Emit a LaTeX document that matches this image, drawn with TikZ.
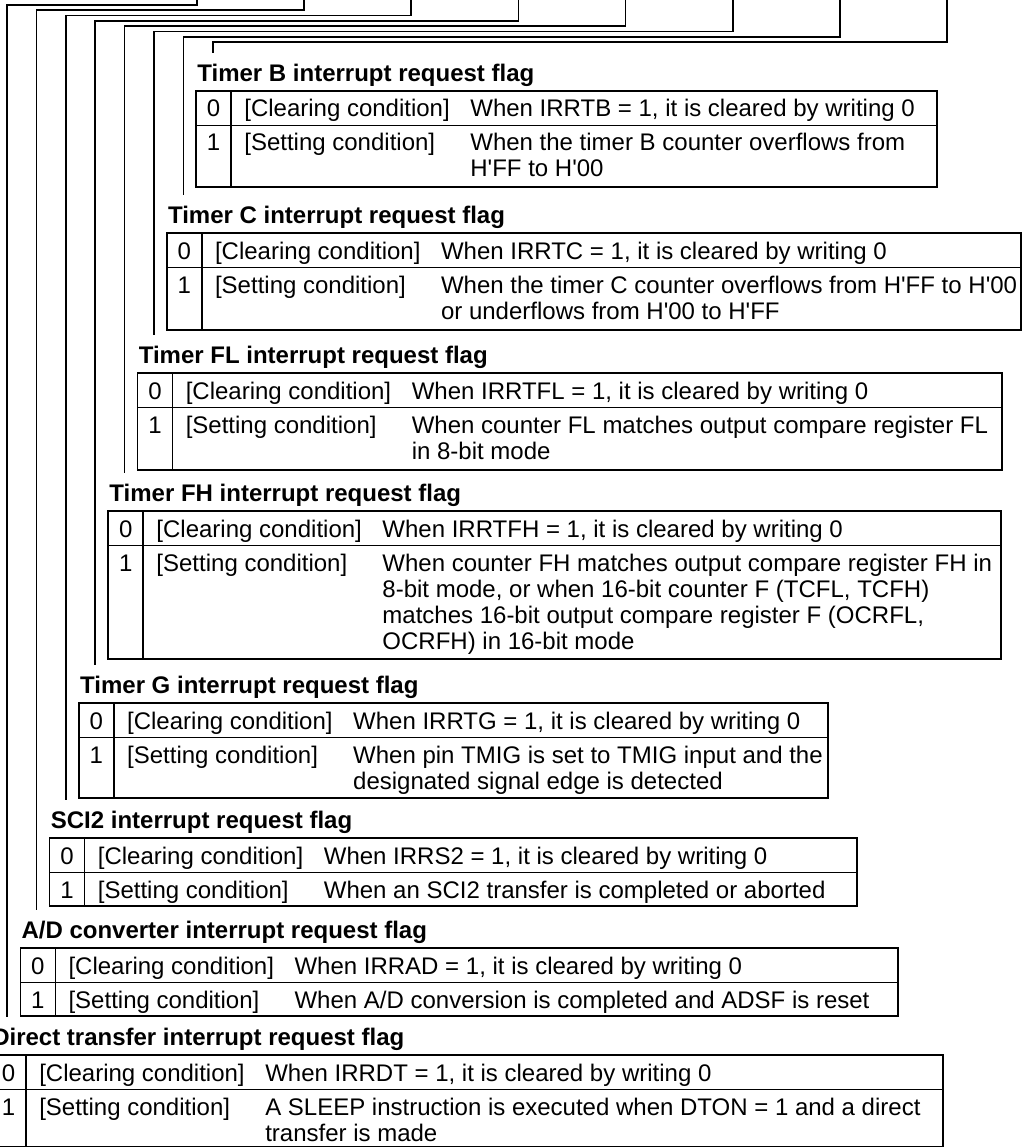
\documentclass[tikz,border=0pt]{standalone}
\usepackage{fontspec}
\setmainfont{Liberation Sans}
\newcommand{\aq}{\textquotesingle}
\tikzset{
  tabline/.style={line width=1.2pt},
  regline/.style={line width=1.2pt},
  txt/.style={inner sep=0pt, font=\fontsize{18}{19.5}\selectfont},
  ttl/.style={inner sep=0pt, font=\fontsize{18}{19.5}\selectfont\bfseries, anchor=base west},
}
% #1 name, #2 left, #3 right, #4 title centre y, #5 bottom, #6 title, #7 register, #8 setting lines
\newcommand{\flagtab}[8]{%
  \pgfmathsetmacro{\ftTop}{#4+18}%
  \pgfmathsetmacro{\ftDiv}{#4+52.5}%
  \pgfmathsetmacro{\ftCol}{#2+35}%
  \node[ttl] (#1-title) at (#2+1,#4+8.5) {#6};
  \draw[tabline] (#2,\ftTop) rectangle (#3,#5);
  \draw[tabline] (#2,\ftDiv) -- (#3,\ftDiv);
  \draw[tabline] (\ftCol,\ftTop) -- (\ftCol,#5);
  \node[txt,anchor=base] (#1-n0) at (#2+17.5,\ftTop+26) {0};
  \node[txt,anchor=base west] (#1-c0) at (\ftCol+13,\ftTop+26) {[Clearing condition]};
  \node[txt,anchor=base west] (#1-t0) at (\ftCol+239,\ftTop+26) {When #7 = 1, it is cleared by writing 0};
  \node[txt,anchor=base] (#1-n1) at (#2+17.5,\ftDiv+25.5) {1};
  \node[txt,anchor=base west] (#1-c1) at (\ftCol+13,\ftDiv+25.5) {[Setting condition]};
  \foreach \fl [count=\k from 0] in {#8}{%
    \node[txt,anchor=base west] (#1-s\k) at (\ftCol+239,\ftDiv+25.5+26*\k) {\fl};}%
}
\begin{document}
\begin{tikzpicture}[x=0.75pt,y=-0.75pt]
\useasboundingbox (0,0) rectangle (1025,1148);
\clip (0,0) rectangle (1025,1148);

% register bit lines down to each flag
\foreach \i/\ty in {0/1037,1/930,2/820,3/685,4/493,5/355,6/215,7/73} {
  \coordinate (bit\i) at ({197+107.14*\i},-3);
  \coordinate (knee\i) at ({7+29.4*\i},{5+5.3*\i});
  \coordinate (end\i) at ({7+29.4*\i},\ty-20);
  \draw[regline] (bit\i) |- (knee\i) -- (end\i);
}

\flagtab{tB}{196.1}{937}{73}{187}{Timer B interrupt request flag}{IRRTB}
  {{When the timer B counter overflows from},{H\aq FF to H\aq 00}}
\flagtab{tC}{166.8}{1021}{215}{330}{Timer C interrupt request flag}{IRRTC}
  {{When the timer C counter overflows from H\aq FF to H\aq 00},{or underflows from H\aq 00 to H\aq FF}}
\flagtab{tFL}{137.5}{1002}{355}{470}{Timer FL interrupt request flag}{IRRTFL}
  {{When counter FL matches output compare register FL},{in 8-bit mode}}
\flagtab{tFH}{108.2}{1001}{493}{659}{Timer FH interrupt request flag}{IRRTFH}
  {{When counter FH matches output compare register FH in},{8-bit mode, or when 16-bit counter F (TCFL, TCFH)},{matches 16-bit output compare register F (OCRFL,},{OCRFH) in 16-bit mode}}
\flagtab{tG}{78.9}{828}{685}{798}{Timer G interrupt request flag}{IRRTG}
  {{When pin TMIG is set to TMIG input and the},{designated signal edge is detected}}
\flagtab{tS}{49.6}{857}{820}{906}{SCI2 interrupt request flag}{IRRS2}
  {{When an SCI2 transfer is completed or aborted}}
\flagtab{tAD}{20.3}{898}{930}{1016}{A/D converter interrupt request flag}{IRRAD}
  {{When A/D conversion is completed and ADSF is reset}}
\flagtab{tDT}{-9}{943}{1037}{1146.5}{Direct transfer interrupt request flag}{IRRDT}
  {{A SLEEP instruction is executed when DTON = 1 and a direct},{transfer is made}}
\end{tikzpicture}
\end{document}
